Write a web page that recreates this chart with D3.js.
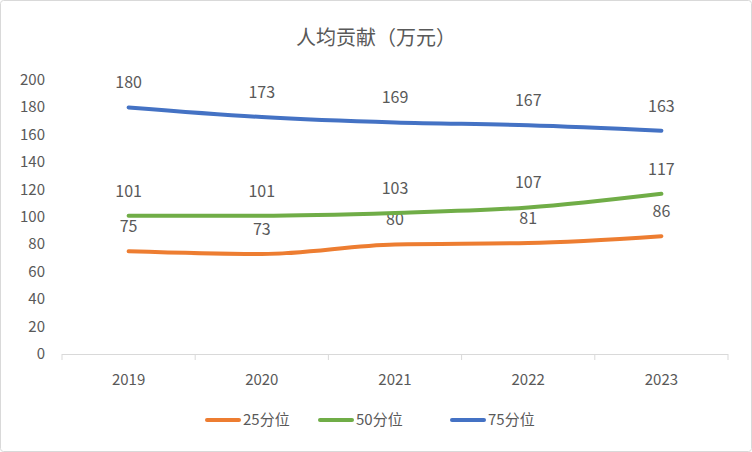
<!DOCTYPE html>
<html><head><meta charset="utf-8">
<script src="https://cdn.jsdelivr.net/npm/d3@7"></script>
<style>body{margin:0;background:#fff}text{font-family:"Noto Sans CJK SC","Liberation Sans",sans-serif;fill:#595959}</style>
</head><body><div id="viz"></div>
<script>
// chart data
var years = ["2019","2020","2021","2022","2023"];
var names = ["25分位","50分位","75分位"];
var p25 = [75,73,80,81,86];
var p50 = [101,101,103,107,117];
var p75 = [180,173,169,167,163];
var colors = ["#ED7D31","#70AD47","#4472C4"];
var yTicks = [0,20,40,60,80,100,120,140,160,180,200];

var width = 752, height = 452;
var svg = d3.select("#viz").append("svg").attr("width", width).attr("height", height);

svg.append("rect").attr("x",0.5).attr("y",0.5).attr("width",width-1).attr("height",height-1)
  .attr("rx",3).attr("fill","#fff").attr("stroke","#d9d9d9");

svg.append("text").attr("x",376).attr("y",45).attr("text-anchor","middle")
  .style("font-size","20px").text("人均贡献（万元）");

var x = d3.scaleBand().domain(years).range([62,728]);
var y = d3.scaleLinear().domain([0,200]).range([354,80]);

// y labels
svg.selectAll(".yl").data(yTicks).enter().append("text")
  .attr("x",45).attr("y",d=>y(d)+5).attr("text-anchor","end")
  .style("font-size","15px").text(d=>d);

// baseline and ticks
svg.append("line").attr("x1",62).attr("x2",728).attr("y1",354.5).attr("y2",354.5).attr("stroke","#d9d9d9");
svg.selectAll(".tk").data(d3.range(years.length+1)).enter().append("line")
  .attr("x1",i=>62+i*x.step()).attr("x2",i=>62+i*x.step())
  .attr("y1",354).attr("y2",360).attr("stroke","#d9d9d9");
svg.selectAll(".xl").data(years).enter().append("text")
  .attr("x",d=>x(d)+x.bandwidth()/2).attr("y",385).attr("text-anchor","middle")
  .style("font-size","15px").text(d=>d);

var series = [p25,p50,p75];
var line = d3.line().x((d,i)=>x(years[i])+x.bandwidth()/2).y(d=>y(d)).curve(d3.curveMonotoneX);
series.forEach(function(s,k){
  svg.append("path").attr("d",line(s)).attr("fill","none")
    .attr("stroke",colors[k]).attr("stroke-width",4).attr("stroke-linecap","round");
  svg.selectAll(".lb"+k).data(s).enter().append("text")
    .attr("x",(d,i)=>x(years[i])+x.bandwidth()/2).attr("y",d=>y(d)-19)
    .attr("text-anchor","middle").style("font-size","16px").text(d=>d);
});

// legend
var lx = [207,320,452];
names.forEach(function(n,k){
  svg.append("line").attr("x1",lx[k]).attr("x2",lx[k]+32).attr("y1",420).attr("y2",420)
    .attr("stroke",colors[k]).attr("stroke-width",4).attr("stroke-linecap","round");
  svg.append("text").attr("x",lx[k]+36).attr("y",425).style("font-size","15px").text(n);
});
</script></body></html>
